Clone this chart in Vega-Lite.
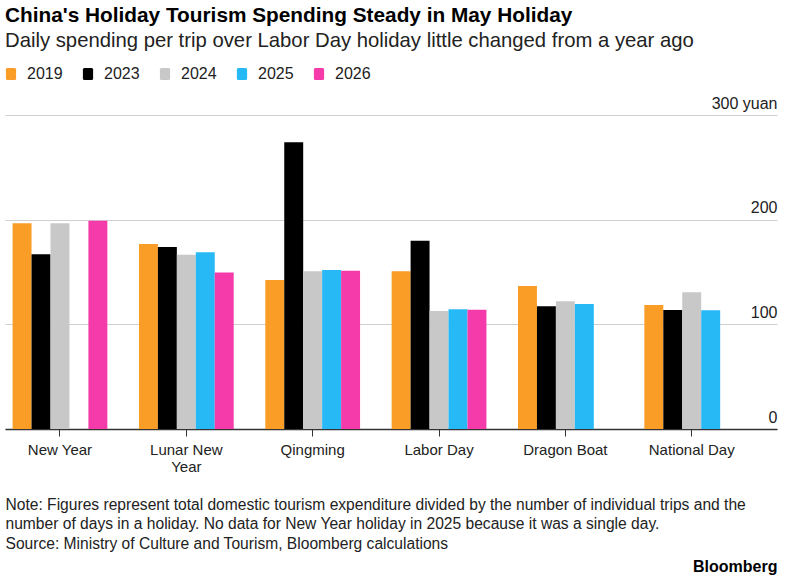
{
  "$schema": "https://vega.github.io/schema/vega-lite/v6.json",
  "width": 772,
  "height": 314,
  "autosize": {"type": "none"},
  "padding": {"left": 5, "top": 115, "right": 27, "bottom": 152},
  "background": "white",
  "title": {
    "text": "China's Holiday Tourism Spending Steady in May Holiday",
    "subtitle": "Daily spending per trip over Labor Day holiday little changed from a year ago",
    "anchor": "start",
    "frame": "group",
    "font": "Liberation Sans",
    "fontSize": 20.8,
    "fontWeight": "bold",
    "color": "#000000",
    "subtitleFont": "Liberation Sans",
    "subtitleFontSize": 20.3,
    "subtitleColor": "#222222",
    "subtitlePadding": 4,
    "offset": 14
  },
  "config": {
    "view": {"stroke": null},
    "font": "Liberation Sans"
  },
  "data": {
    "values": [
      {"holiday": "New Year", "year": "2019", "value": 196.5},
      {"holiday": "New Year", "year": "2023", "value": 167},
      {"holiday": "New Year", "year": "2024", "value": 196.5},
      {"holiday": "New Year", "year": "2026", "value": 199},
      {"holiday": "Lunar New Year", "year": "2019", "value": 176.7},
      {"holiday": "Lunar New Year", "year": "2023", "value": 174},
      {"holiday": "Lunar New Year", "year": "2024", "value": 166.5},
      {"holiday": "Lunar New Year", "year": "2025", "value": 168.8},
      {"holiday": "Lunar New Year", "year": "2026", "value": 149.6},
      {"holiday": "Qingming", "year": "2019", "value": 142.3},
      {"holiday": "Qingming", "year": "2023", "value": 274},
      {"holiday": "Qingming", "year": "2024", "value": 150.6},
      {"holiday": "Qingming", "year": "2025", "value": 151.9},
      {"holiday": "Qingming", "year": "2026", "value": 151.2},
      {"holiday": "Labor Day", "year": "2019", "value": 150.6},
      {"holiday": "Labor Day", "year": "2023", "value": 179.9},
      {"holiday": "Labor Day", "year": "2024", "value": 112.7},
      {"holiday": "Labor Day", "year": "2025", "value": 114.3},
      {"holiday": "Labor Day", "year": "2026", "value": 114},
      {"holiday": "Dragon Boat", "year": "2019", "value": 136.6},
      {"holiday": "Dragon Boat", "year": "2023", "value": 117.2},
      {"holiday": "Dragon Boat", "year": "2024", "value": 122},
      {"holiday": "Dragon Boat", "year": "2025", "value": 119.4},
      {"holiday": "National Day", "year": "2019", "value": 118.4},
      {"holiday": "National Day", "year": "2023", "value": 113.7},
      {"holiday": "National Day", "year": "2024", "value": 130.6},
      {"holiday": "National Day", "year": "2025", "value": 113.4}
    ]
  },
  "mark": {"type": "bar"},
  "encoding": {
    "x": {
      "field": "holiday",
      "type": "nominal",
      "sort": ["New Year", "Lunar New Year", "Qingming", "Labor Day", "Dragon Boat", "National Day"],
      "scale": {"paddingInner": 0.25, "paddingOuter": 0.18, "align": 0.167},
      "axis": {
        "labelAngle": 0,
        "labelExpr": "datum.value == 'Lunar New Year' ? ['Lunar New', 'Year'] : datum.value",
        "labelFont": "Liberation Sans",
        "labelFontSize": 15,
        "labelColor": "#222222",
        "labelPadding": 6,
        "labelLineHeight": 17,
        "domainColor": "#333333",
        "domainWidth": 1.5,
        "tickColor": "#333333",
        "tickSize": 7,
        "tickWidth": 1,
        "grid": false,
        "title": [
          "Note: Figures represent total domestic tourism expenditure divided by the number of individual trips and the",
          "number of days in a holiday. No data for New Year holiday in 2025 because it was a single day.",
          "Source: Ministry of Culture and Tourism, Bloomberg calculations"
        ],
        "titleFont": "Liberation Sans",
        "titleFontSize": 15.6,
        "titleFontWeight": "normal",
        "titleColor": "#222222",
        "titleAnchor": "start",
        "titleAlign": "left",
        "titleBaseline": "top",
        "titleLineHeight": 19.5,
        "titleX": 0,
        "titleY": 68
      }
    },
    "xOffset": {
      "field": "year",
      "type": "nominal",
      "scale": {"domain": ["2019", "2023", "2024", "2025", "2026"], "paddingInner": 0, "paddingOuter": 0}
    },
    "y": {
      "field": "value",
      "type": "quantitative",
      "scale": {"domain": [0, 300], "nice": false},
      "axis": {
        "orient": "right",
        "values": [0, 100, 200, 300],
        "labelExpr": "datum.value == 300 ? '300 yuan' : datum.label",
        "grid": true,
        "gridColor": "#d0d0d0",
        "gridWidth": 1,
        "domain": false,
        "ticks": false,
        "tickSize": 0,
        "labelPadding": 0,
        "labelAlign": "right",
        "labelBaseline": "alphabetic",
        "labelOffset": -7,
        "labelFont": "Liberation Sans",
        "labelFontSize": 16,
        "labelColor": "#222222",
        "labelOverlap": false,
        "labelBound": false,
        "title": "Bloomberg",
        "titleAngle": 0,
        "titleFont": "Liberation Sans",
        "titleFontSize": 16,
        "titleFontWeight": "bold",
        "titleColor": "#000000",
        "titleAlign": "right",
        "titleBaseline": "middle",
        "titleX": 0,
        "titleY": 451
      }
    },
    "color": {
      "field": "year",
      "type": "nominal",
      "scale": {
        "domain": ["2019", "2023", "2024", "2025", "2026"],
        "range": ["#F99D26", "#000000", "#C8C8C8", "#27B9F5", "#F53BAA"]
      },
      "legend": {
        "orient": "none",
        "legendX": -2,
        "legendY": -49,
        "direction": "horizontal",
        "title": null,
        "symbolType": "M-0.6,-1H0.6Q0.85,-1 0.85,-0.75V0.75Q0.85,1 0.6,1H-0.6Q-0.85,1 -0.85,0.75V-0.75Q-0.85,-1 -0.6,-1Z",
        "symbolSize": 144,
        "symbolStrokeWidth": 0,
        "symbolOpacity": 1,
        "labelFont": "Liberation Sans",
        "labelFontSize": 16,
        "labelColor": "#222222",
        "labelOffset": 8,
        "columnPadding": 17
      }
    }
  }
}
